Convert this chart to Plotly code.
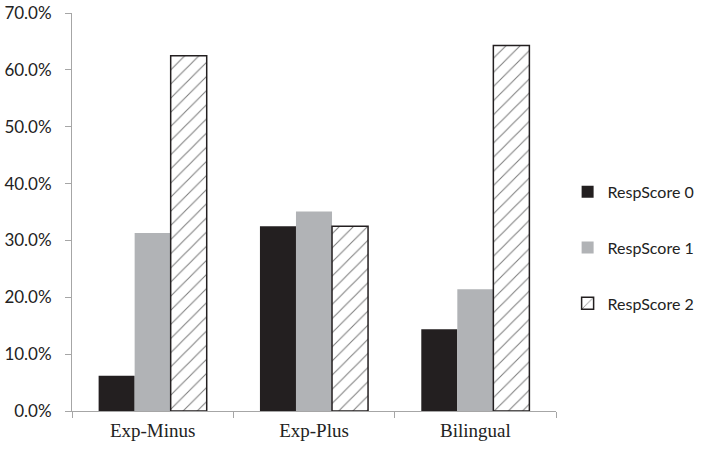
import plotly.graph_objects as go

groups = ["Exp-Minus", "Exp-Plus", "Bilingual"]
score0 = [0.062, 0.325, 0.144]
score1 = [0.313, 0.351, 0.214]
score2 = [0.625, 0.325, 0.643]
series_names = ["RespScore 0", "RespScore 1", "RespScore 2"]
y_ticks = [0, 0.1, 0.2, 0.3, 0.4, 0.5, 0.6, 0.7]

fig = go.Figure()
fig.add_trace(go.Bar(
    x=groups, y=score0, name=series_names[0], legendgroup="a",
    marker=dict(color="#231f20", line=dict(width=0)),
))
fig.add_trace(go.Bar(
    x=groups, y=score1, name=series_names[1], legendgroup="b",
    marker=dict(color="#b1b3b6", line=dict(width=0)),
))
fig.add_trace(go.Bar(
    x=groups, y=score2, name=series_names[2], legendgroup="c",
    marker=dict(
        color="white",
        line=dict(color="#231f20", width=1.5),
        pattern=dict(shape="/", fgcolor="#444444", bgcolor="white",
                     size=10, solidity=0.1, fgopacity=0.7, fillmode="overlay"),
    ),
))

fig.update_layout(
    width=704, height=449,
    margin=dict(l=72, r=148, t=13, b=38, autoexpand=False),
    paper_bgcolor="white", plot_bgcolor="white",
    barmode="group", bargap=0.33, bargroupgap=0,
    showlegend=True,
    legend=dict(
        x=1.024, y=0.41, xanchor="left", yanchor="middle",
        font=dict(family="Lato, Carlito, sans-serif", size=16, color="#222222"),
        tracegroupgap=32, itemwidth=30,
    ),
    xaxis=dict(
        automargin=False,
        showline=True, linecolor="#a6a6a6", linewidth=1,
        ticks="outside", tickson="boundaries", ticklen=6, tickcolor="#a6a6a6",
        tickfont=dict(family="Liberation Serif, Times New Roman, serif", size=19, color="#222222"),
        ticklabelstandoff=2,
        showgrid=False, zeroline=False,
    ),
    yaxis=dict(
        automargin=False,
        range=[0, 0.7], tickvals=y_ticks, tickformat=".1%",
        showline=True, linecolor="#a6a6a6", linewidth=1,
        ticks="outside", ticklen=6, tickcolor="#a6a6a6",
        tickfont=dict(family="Lato, Carlito, sans-serif", size=17, color="#222222"),
        ticklabelstandoff=10,
        showgrid=False, zeroline=False,
    ),
)

fig.write_html("out.html")
